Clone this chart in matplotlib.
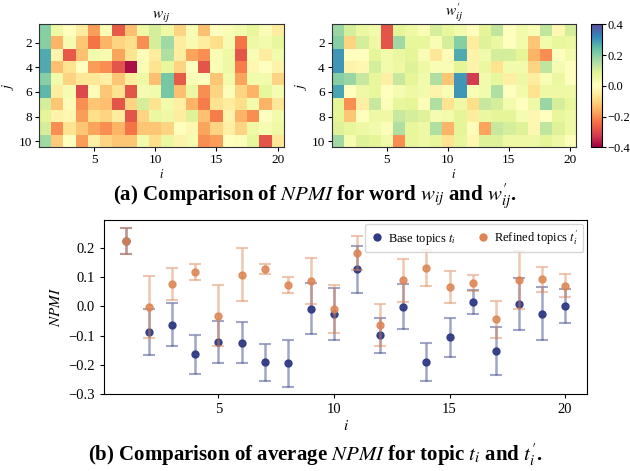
import numpy as np
import matplotlib
matplotlib.use("Agg")
import matplotlib.pyplot as plt
from matplotlib.lines import Line2D

plt.rcParams['font.family'] = ['Liberation Serif', 'DejaVu Serif']
plt.rcParams['mathtext.fontset'] = 'stix'

# NPMI per word (rows j = 1..10, columns i = 1..20)
w = np.array([
    [0.20, 0.05, 0.00, -0.05, -0.18, 0.02, -0.27, -0.13, 0.05, 0.10, 0.05, -0.10, 0.02, -0.13, 0.00, 0.02, 0.04, 0.07, 0.02, -0.05],
    [0.20, -0.15, 0.03, -0.12, -0.23, -0.15, -0.10, -0.08, -0.20, 0.10, 0.17, -0.05, 0.03, -0.05, -0.08, 0.03, -0.23, 0.05, 0.04, 0.07],
    [0.27, -0.03, -0.27, -0.13, 0.04, 0.03, -0.17, -0.07, 0.01, -0.05, 0.15, -0.05, -0.17, -0.20, 0.02, 0.05, -0.28, 0.02, -0.05, 0.04],
    [0.27, -0.13, -0.07, 0.00, -0.18, -0.20, -0.28, -0.38, 0.02, -0.07, 0.07, -0.10, 0.00, -0.28, 0.02, 0.05, -0.22, -0.02, 0.00, -0.03],
    [0.20, 0.04, -0.10, -0.06, -0.06, -0.04, -0.12, -0.05, 0.05, -0.13, 0.22, -0.27, 0.02, 0.00, -0.12, 0.04, -0.17, 0.04, 0.04, -0.10],
    [0.25, -0.05, 0.03, -0.30, -0.01, -0.12, -0.07, -0.28, 0.03, 0.04, 0.22, -0.13, 0.06, -0.20, -0.10, 0.01, -0.10, -0.15, 0.07, 0.03],
    [0.10, -0.12, -0.01, -0.20, -0.12, -0.13, -0.28, -0.10, 0.10, -0.07, 0.04, -0.04, -0.15, -0.22, -0.07, -0.05, -0.08, 0.04, -0.15, -0.06],
    [0.08, -0.03, -0.02, -0.18, -0.08, -0.10, -0.05, -0.28, -0.10, 0.06, 0.05, -0.05, 0.09, -0.13, -0.22, -0.03, -0.15, -0.20, 0.00, 0.04],
    [0.10, -0.20, -0.07, -0.12, -0.17, -0.20, -0.15, -0.23, -0.12, -0.12, -0.10, 0.00, -0.02, -0.17, -0.10, -0.04, -0.10, 0.05, 0.03, 0.05],
    [0.17, -0.11, 0.00, -0.18, -0.04, -0.10, -0.12, -0.12, 0.04, -0.08, 0.06, -0.03, 0.03, -0.20, -0.18, 0.00, 0.01, 0.07, -0.28, -0.06],
])

w_ref = np.array([
    [0.18, 0.10, 0.06, 0.04, -0.28, 0.08, 0.05, 0.02, 0.10, 0.07, 0.04, 0.00, 0.08, 0.13, 0.00, 0.04, 0.02, 0.13, -0.02, 0.10],
    [0.20, -0.10, 0.10, 0.05, -0.28, 0.17, 0.07, 0.07, 0.02, 0.10, 0.20, -0.05, 0.09, 0.06, 0.00, 0.04, -0.12, 0.04, 0.07, 0.06],
    [0.30, 0.00, 0.00, 0.08, 0.04, 0.06, 0.08, 0.02, -0.06, -0.01, 0.27, -0.03, 0.04, 0.10, 0.10, 0.08, -0.15, -0.20, 0.00, 0.04],
    [0.30, -0.03, -0.02, 0.10, 0.04, 0.05, 0.09, 0.05, 0.02, 0.02, 0.08, -0.03, 0.06, -0.07, 0.04, 0.04, -0.10, 0.13, 0.03, 0.00],
    [0.20, 0.18, 0.12, 0.07, -0.04, 0.12, 0.08, 0.04, 0.15, -0.12, 0.30, -0.32, 0.04, 0.07, -0.04, 0.05, -0.05, 0.02, 0.06, 0.00],
    [0.28, 0.00, 0.05, 0.07, 0.00, 0.03, 0.05, 0.04, -0.03, 0.02, 0.30, 0.02, 0.04, 0.15, 0.00, 0.04, -0.07, 0.05, 0.05, 0.05],
    [0.08, -0.20, -0.04, 0.12, 0.01, 0.07, 0.08, 0.01, 0.15, -0.07, 0.05, -0.08, 0.12, 0.10, 0.04, 0.00, 0.05, 0.18, 0.10, 0.07],
    [0.08, -0.12, 0.00, 0.05, 0.05, 0.12, 0.10, 0.09, 0.03, 0.04, 0.08, -0.05, 0.06, 0.08, 0.08, 0.03, -0.02, 0.00, 0.07, 0.05],
    [0.09, 0.07, 0.05, 0.04, 0.01, 0.15, 0.07, 0.05, 0.15, -0.15, 0.08, 0.01, -0.17, 0.12, 0.10, 0.09, -0.02, 0.13, 0.09, 0.05],
    [0.17, 0.03, 0.09, 0.08, 0.04, -0.20, 0.07, 0.05, 0.07, -0.07, 0.07, -0.02, 0.09, 0.09, 0.05, 0.05, 0.05, 0.08, 0.05, 0.01],
])

# average NPMI per topic
topics = np.arange(1, 21)
base_mean = [0.224, -0.088, -0.063, -0.164, -0.122, -0.124, -0.191, -0.195, -0.008, -0.026,
             0.126, -0.099, -0.001, -0.189, -0.106, 0.014, -0.154, 0.009, -0.026, 0.001]
base_err = [0.044, 0.079, 0.073, 0.066, 0.071, 0.069, 0.063, 0.080, 0.086, 0.088,
            0.081, 0.060, 0.077, 0.065, 0.067, 0.040, 0.082, 0.089, 0.091, 0.059]
ref_mean = [0.224, -0.002, 0.076, 0.116, -0.032, 0.108, 0.128, 0.072, 0.086, -0.009,
            0.181, -0.064, 0.089, 0.131, 0.066, 0.079, -0.044, 0.090, 0.092, 0.070]
ref_err = [0.044, 0.106, 0.056, 0.027, 0.104, 0.091, 0.017, 0.027, 0.079, 0.082,
           0.058, 0.073, 0.073, 0.061, 0.055, 0.027, 0.063, 0.099, 0.042, 0.039]

blue = '#2f3b85'
orange = '#dd8452'

fig = plt.figure(figsize=(6.3, 4.71), dpi=100)

# (a) heatmaps
ax1 = fig.add_axes([0.0619, 0.6873, 0.3884, 0.2611])
ax2 = fig.add_axes([0.5265, 0.6873, 0.3876, 0.2611])
cax = fig.add_axes([0.9376, 0.6873, 0.018, 0.2611])

for ax, data, title in [(ax1, w, r'$w_{ij}$'), (ax2, w_ref, r"$w_{ij}^{\prime}$")]:
    im = ax.imshow(data, cmap='Spectral', vmin=-0.4, vmax=0.4, aspect='auto',
                   extent=(0.5, 20.5, 10.5, 0.5), interpolation='nearest')
    ax.set_xticks([5, 10, 15, 20])
    ax.set_yticks([2, 4, 6, 8, 10])
    ax.tick_params(labelsize=9.5, length=3, width=0.8, pad=2)
    ax.set_title(title, fontsize=11, pad=2)
    ax.set_ylabel(r'$j$', fontsize=10, labelpad=2)
    ax.set_xlabel(r'$i$', fontsize=9, labelpad=1)
    for s in ax.spines.values():
        s.set_color('#333333')

cb = fig.colorbar(im, cax=cax, ticks=[-0.4, -0.2, 0.0, 0.2, 0.4])
cb.ax.tick_params(labelsize=9, length=3, width=0.8, pad=1)
cb.ax.set_yticklabels(['\u22120.4', '\u22120.2', '0.0', '0.2', '0.4'])

fig.text(0.5, 0.582, r"(a) Comparison of $\mathit{NPMI}$ for word $w_{ij}$ and $w_{ij}^{\prime}$.",
         ha='center', va='center', fontsize=15, fontweight='bold')

# (b) error bars
ax3 = fig.add_axes([0.1651, 0.1635, 0.7667, 0.3694])
ax3.errorbar(topics, base_mean, yerr=base_err, fmt='none', ecolor=blue, alpha=0.45,
             elinewidth=1.8, capsize=4, capthick=1.5)
ax3.plot(topics, base_mean, 'o', color=blue, markersize=5, alpha=0.95)
ax3.errorbar(topics, ref_mean, yerr=ref_err, fmt='none', ecolor=orange, alpha=0.45,
             elinewidth=1.8, capsize=4, capthick=1.5)
ax3.plot(topics, ref_mean, 'o', color=orange, markersize=5, alpha=0.85)

ax3.set_xlim(0.05, 20.95)
ax3.set_ylim(-0.3, 0.295)
ax3.set_xticks([5, 10, 15, 20])
ax3.set_yticks([-0.3, -0.2, -0.1, 0.0, 0.1, 0.2])
ax3.tick_params(labelsize=10.5, length=3, width=0.8)
ax3.set_ylabel(r'$NPMI$', fontsize=11)
ax3.set_xlabel(r'$i$', fontsize=11, labelpad=2)

handles = [Line2D([], [], marker='o', ls='none', color=blue, markersize=5),
           Line2D([], [], marker='o', ls='none', color=orange, markersize=5)]
ax3.legend(handles, [r'Base topics $t_i$', r"Refined topics $t_i^{\prime}$"], ncol=2,
           loc='upper right', fontsize=9, handletextpad=0.3, columnspacing=1.5,
           borderaxespad=0.3, handlelength=1.2)

fig.text(0.5, 0.034, r"(b) Comparison of average $\mathit{NPMI}$ for topic $t_i$ and $t_i^{\prime}$.",
         ha='center', va='center', fontsize=15, fontweight='bold')

fig.savefig('out.png', dpi=100)
